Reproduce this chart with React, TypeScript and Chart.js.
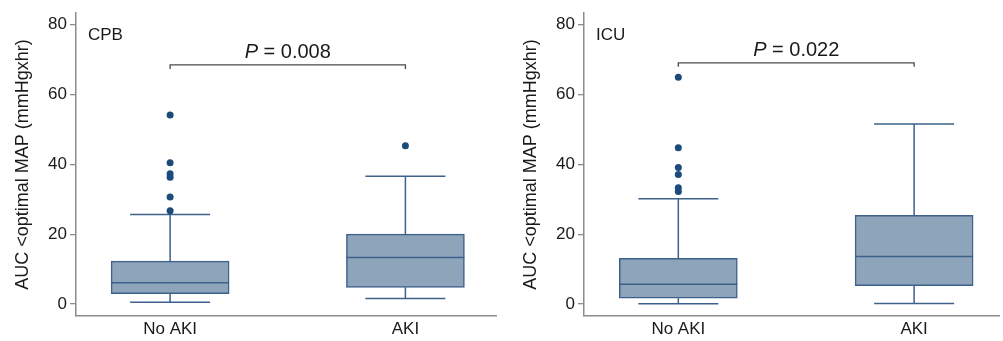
import React, { useEffect, useRef } from "react";
import { Chart, registerables } from "chart.js";

Chart.register(...registerables);

// ---------- data ----------
const categories = ["No AKI", "AKI"];
const yTicks = [0, 20, 40, 60, 80];

const cpbLow = [0.5, 1.6];
const cpbQ1 = [3.0, 4.8];
const cpbMedian = [6.1, 13.3];
const cpbQ3 = [12.3, 20.0];
const cpbHigh = [25.6, 36.6];
const cpbOutliersNoAki = [26.7, 30.6, 36.3, 37.3, 40.4, 54.1];
const cpbOutliersAki = [45.3];
const cpbPValue = "0.008";
const cpbBracket = 68.4;

const icuLow = [0.1, 0.2];
const icuQ1 = [1.7, 5.3];
const icuMedian = [5.7, 13.6];
const icuQ3 = [13.1, 25.4];
const icuHigh = [30.1, 51.5];
const icuOutliersNoAki = [32.2, 33.3, 37.1, 39.1, 44.7, 64.9];
const icuOutliersAki: number[] = [];
const icuPValue = "0.022";
const icuBracket = 69.0;

const yTitle = "AUC <optimal MAP (mmHgxhr)";

// ---------- styles ----------
const FONT = "'Liberation Sans', Arial, Helvetica, sans-serif";
const BOX_FILL = "#8ea4ba";
const BOX_LINE = "#3d618a";
const POINT = "#1b4b7b";
const AXIS = "#8c8c8c";
const TEXT = "#1a1a1a";

type PanelData = {
  label: string;
  low: number[];
  q1: number[];
  median: number[];
  q3: number[];
  high: number[];
  outliers: number[][];
  p: string;
  bracket: number;
};

const panels: PanelData[] = [
  {
    label: "CPB",
    low: cpbLow,
    q1: cpbQ1,
    median: cpbMedian,
    q3: cpbQ3,
    high: cpbHigh,
    outliers: [cpbOutliersNoAki, cpbOutliersAki],
    p: cpbPValue,
    bracket: cpbBracket,
  },
  {
    label: "ICU",
    low: icuLow,
    q1: icuQ1,
    median: icuMedian,
    q3: icuQ3,
    high: icuHigh,
    outliers: [icuOutliersNoAki, icuOutliersAki],
    p: icuPValue,
    bracket: icuBracket,
  },
];

const layouts = [
  { left: 0, width: 500, xMax: 2.385 },
  { left: 508, width: 495, xMax: 2.36 },
];

function makePlugin(d: PanelData) {
  const CAP = 80;
  return {
    id: "boxExtras",
    beforeDatasetsDraw(chart: any) {
      const { ctx, scales } = chart;
      const x = scales.x;
      const y = scales.y;
      ctx.save();
      ctx.strokeStyle = BOX_LINE;
      ctx.lineWidth = 1.5;
      d.low.forEach((lo, i) => {
        const cx = x.getPixelForValue(i + 1);
        const yLo = y.getPixelForValue(lo);
        const yHi = y.getPixelForValue(d.high[i]);
        const yQ1 = y.getPixelForValue(d.q1[i]);
        const yQ3 = y.getPixelForValue(d.q3[i]);
        ctx.beginPath();
        ctx.moveTo(cx, yLo);
        ctx.lineTo(cx, yQ1);
        ctx.moveTo(cx - CAP / 2, yLo);
        ctx.lineTo(cx + CAP / 2, yLo);
        ctx.moveTo(cx, yQ3);
        ctx.lineTo(cx, yHi);
        ctx.moveTo(cx - CAP / 2, yHi);
        ctx.lineTo(cx + CAP / 2, yHi);
        ctx.stroke();
      });
      ctx.restore();
    },
    afterDatasetsDraw(chart: any) {
      const { ctx, scales, chartArea } = chart;
      const x = scales.x;
      const y = scales.y;
      ctx.save();
      // medians
      ctx.strokeStyle = BOX_LINE;
      ctx.lineWidth = 1.5;
      const half = 59;
      d.median.forEach((m, i) => {
        const cx = x.getPixelForValue(i + 1);
        const ym = y.getPixelForValue(m);
        ctx.beginPath();
        ctx.moveTo(cx - half, ym);
        ctx.lineTo(cx + half, ym);
        ctx.stroke();
      });
      // bracket
      const x1 = x.getPixelForValue(1);
      const x2 = x.getPixelForValue(2);
      const yb = y.getPixelForValue(d.bracket);
      ctx.strokeStyle = "#4a4a4a";
      ctx.lineWidth = 1.3;
      ctx.beginPath();
      ctx.moveTo(x1, yb + 4);
      ctx.lineTo(x1, yb);
      ctx.lineTo(x2, yb);
      ctx.lineTo(x2, yb + 4);
      ctx.stroke();
      // p value
      ctx.fillStyle = TEXT;
      ctx.textBaseline = "alphabetic";
      const italic = `italic 20px ${FONT}`;
      const normal = `20px ${FONT}`;
      ctx.font = italic;
      const wP = ctx.measureText("P").width;
      ctx.font = normal;
      const rest = " = " + d.p;
      const wR = ctx.measureText(rest).width;
      const start = (x1 + x2) / 2 - (wP + wR) / 2;
      ctx.font = italic;
      ctx.fillText("P", start, yb - 7);
      ctx.font = normal;
      ctx.fillText(rest, start + wP, yb - 7);
      // panel label
      ctx.font = `17px ${FONT}`;
      ctx.fillText(d.label, chartArea.left + 12, chartArea.top + 27);
      ctx.restore();
    },
  };
}

function Panel({ d, lay }: { d: PanelData; lay: { left: number; width: number; xMax: number } }) {
  const ref = useRef<HTMLCanvasElement>(null);
  useEffect(() => {
    if (!ref.current) return;
    const chart = new Chart(ref.current, {
      type: "bar",
      data: {
        datasets: [
          {
            type: "bar",
            data: categories.map((_, i) => ({ x: i + 1, y: [d.q1[i], d.q3[i]] })) as any,
            backgroundColor: BOX_FILL,
            borderColor: BOX_LINE,
            borderWidth: 1.5,
            borderSkipped: false,
            barThickness: 118,
            order: 2,
          } as any,
          {
            type: "scatter",
            data: d.outliers.flatMap((arr, i) => arr.map((v) => ({ x: i + 1, y: v }))),
            backgroundColor: POINT,
            borderWidth: 0,
            pointRadius: 3.5,
            order: 1,
          } as any,
        ],
      },
      options: {
        animation: false,
        responsive: false,
        events: [],
        layout: { padding: { top: 7, left: 0, right: 0, bottom: 0 } },
        plugins: { legend: { display: false }, tooltip: { enabled: false } },
        scales: {
          x: {
            type: "linear",
            offset: false,
            min: 0.6,
            max: lay.xMax,
            grid: { display: false, drawTicks: false, offset: false },
            border: { display: true, color: AXIS, width: 1.5 },
            afterBuildTicks: (s: any) => {
              s.ticks = categories.map((_, i) => ({ value: i + 1 }));
            },
            afterFit: (s: any) => {
              s.height = 25;
            },
            ticks: {
              autoSkip: false,
              maxRotation: 0,
              padding: 3,
              color: TEXT,
              font: { family: FONT, size: 17 },
              callback: (v: any) => categories[Number(v) - 1] ?? "",
            },
          },
          y: {
            type: "linear",
            min: -3.4,
            max: 83.2,
            grid: { display: true, drawOnChartArea: false, drawTicks: true, tickLength: 6, color: AXIS, lineWidth: 1.3 },
            border: { display: true, color: AXIS, width: 1.5 },
            afterBuildTicks: (s: any) => {
              s.ticks = yTicks.map((v) => ({ value: v }));
            },
            afterFit: (s: any) => {
              s.width = 76;
            },
            ticks: {
              padding: 3,
              color: TEXT,
              font: { family: FONT, size: 17 },
            },
            title: {
              display: true,
              text: yTitle,
              color: TEXT,
              padding: { top: 12, bottom: 0 },
              font: { family: FONT, size: 18 },
            },
          },
        },
      },
      plugins: [makePlugin(d)],
    } as any);
    return () => chart.destroy();
  }, []);
  return (
    <div style={{ position: "absolute", left: lay.left, top: 0, width: lay.width, height: 341 }}>
      <canvas ref={ref} width={lay.width} height={341} style={{ display: "block" }} />
    </div>
  );
}

export default function App() {
  return (
    <div style={{ position: "fixed", left: 0, top: 0, width: 1003, height: 341, background: "#fff" }}>
      {panels.map((d, i) => (
        <Panel key={d.label} d={d} lay={layouts[i]} />
      ))}
    </div>
  );
}
